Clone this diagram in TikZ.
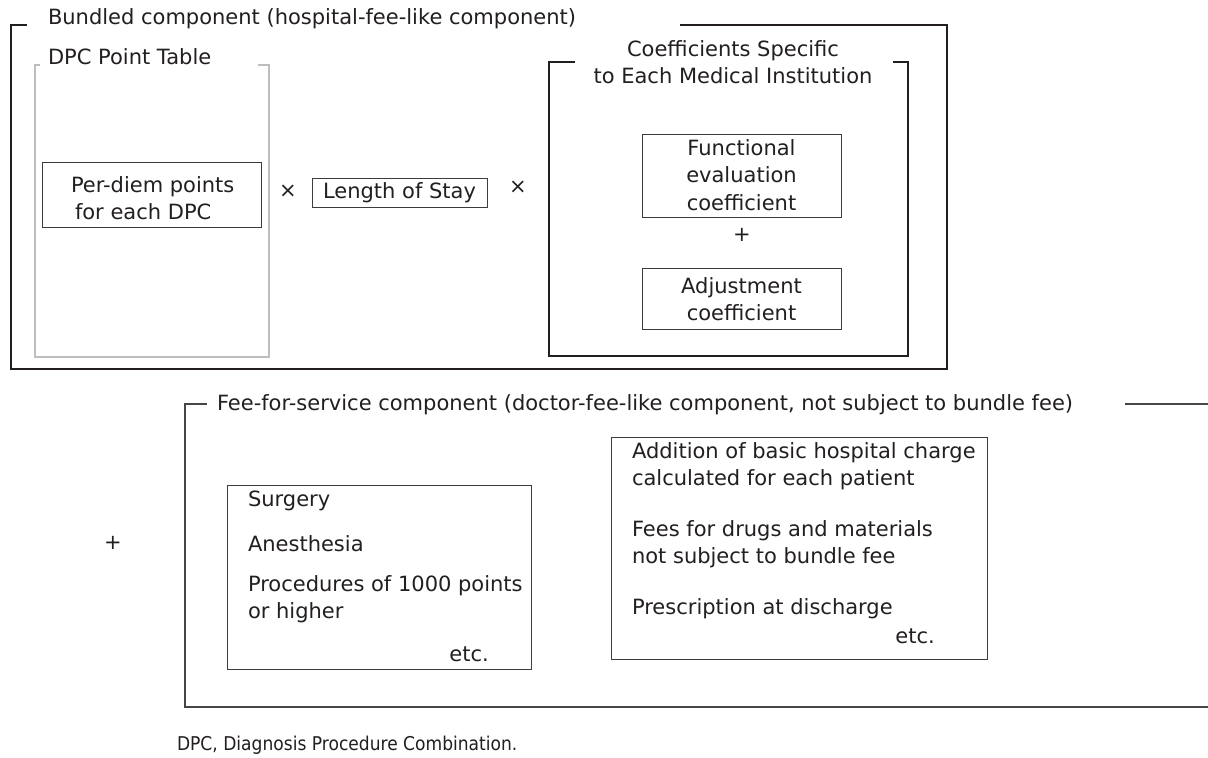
\documentclass[tikz,border=0pt]{standalone}
\usepackage{fontspec}
\setmainfont{DejaVu Sans}
\usetikzlibrary{positioning}
\begin{document}
\begin{tikzpicture}[x=1pt,y=-1pt,
  every node/.style={font=\fontsize{21}{27.5}\selectfont,text=textColor},
  label/.style={inner sep=0pt,outer sep=0pt,anchor=west}]
\definecolor{textColor}{RGB}{35,31,32}
\definecolor{frameColor}{RGB}{35,31,32}
\definecolor{greyColor}{RGB}{190,190,190}
\definecolor{boxColor}{RGB}{60,60,60}
\definecolor{feeColor}{RGB}{70,70,70}
\path[use as bounding box,fill=white] (0,0) rectangle (1208,758);

% bundled component frame
\path[draw=frameColor,line width=2pt] (27,25) -- (11,25) -- (11,369) -- (947,369) -- (947,25) -- (680,25);
\node[label] (bundled) at (48,19) {Bundled component (hospital-fee-like component)};

% DPC point table
\path[draw=greyColor,line width=1.4pt] (40,65) -- (35,65) -- (35,357) -- (269,357) -- (269,65) -- (258,65);
\node[label] (table) at (48,57) {DPC Point Table};
\path[draw=boxColor,line width=1pt] (42,162) rectangle (261,227);
\node[label,align=left] (perdiem) at (71,198) {Per-diem points\\\hspace{4pt}for each DPC};

\node (times1) at (288,191) {×};
\path[draw=boxColor,line width=1pt] (312,178) rectangle (487,207);
\node (stay) at (399.5,193) {Length of Stay};
\node (times2) at (518,187) {×};

% coefficients
\path[draw=frameColor,line width=1.4pt] (575,62) -- (549,62) -- (549,356) -- (908,356) -- (908,62) -- (893,62);
\node[align=center] (coef) at (733,62) {Coefficients Specific\\to Each Medical Institution};
\path[draw=boxColor,line width=1pt] (642,134) rectangle (841,217);
\node[align=center] (func) at (741.5,175) {Functional\\evaluation\\coefficient};
\node (plus1) at (742,235) {+};
\path[draw=boxColor,line width=1pt] (642,268) rectangle (841,329);
\node[align=center] (adjust) at (741.5,299) {Adjustment\\coefficient};

\node (plus2) at (113,543) {+};

% fee-for-service component
\path[draw=feeColor,line width=1.4pt] (207,404) -- (185,404) -- (185,707) -- (1210,707);
\path[draw=feeColor,line width=1.4pt] (1125,404) -- (1210,404);
\node[label] (ffs) at (217,405) {Fee-for-service component (doctor-fee-like component, not subject to bundle fee)};

\path[draw=boxColor,line width=1pt] (227,485) rectangle (531,669);
\node[label] at (248,501) {Surgery};
\node[label] at (248,544) {Anesthesia};
\node[label,align=left] at (248,599) {Procedures of 1000 points\\or higher};
\node[anchor=east,inner sep=0pt] at (489,654) {etc.};

\path[draw=boxColor,line width=1pt] (611,437) rectangle (987,659);
\node[label,align=left] at (632,466) {Addition of basic hospital charge\\calculated for each patient};
\node[label,align=left] at (632,544) {Fees for drugs and materials\\not subject to bundle fee};
\node[label] at (632,609) {Prescription at discharge};
\node[anchor=east,inner sep=0pt] at (935,636) {etc.};

\node[label,font=\fontsize{19}{24}\selectfont,xscale=0.9] (note) at (177,745) {DPC, Diagnosis Procedure Combination.};
\end{tikzpicture}
\end{document}
